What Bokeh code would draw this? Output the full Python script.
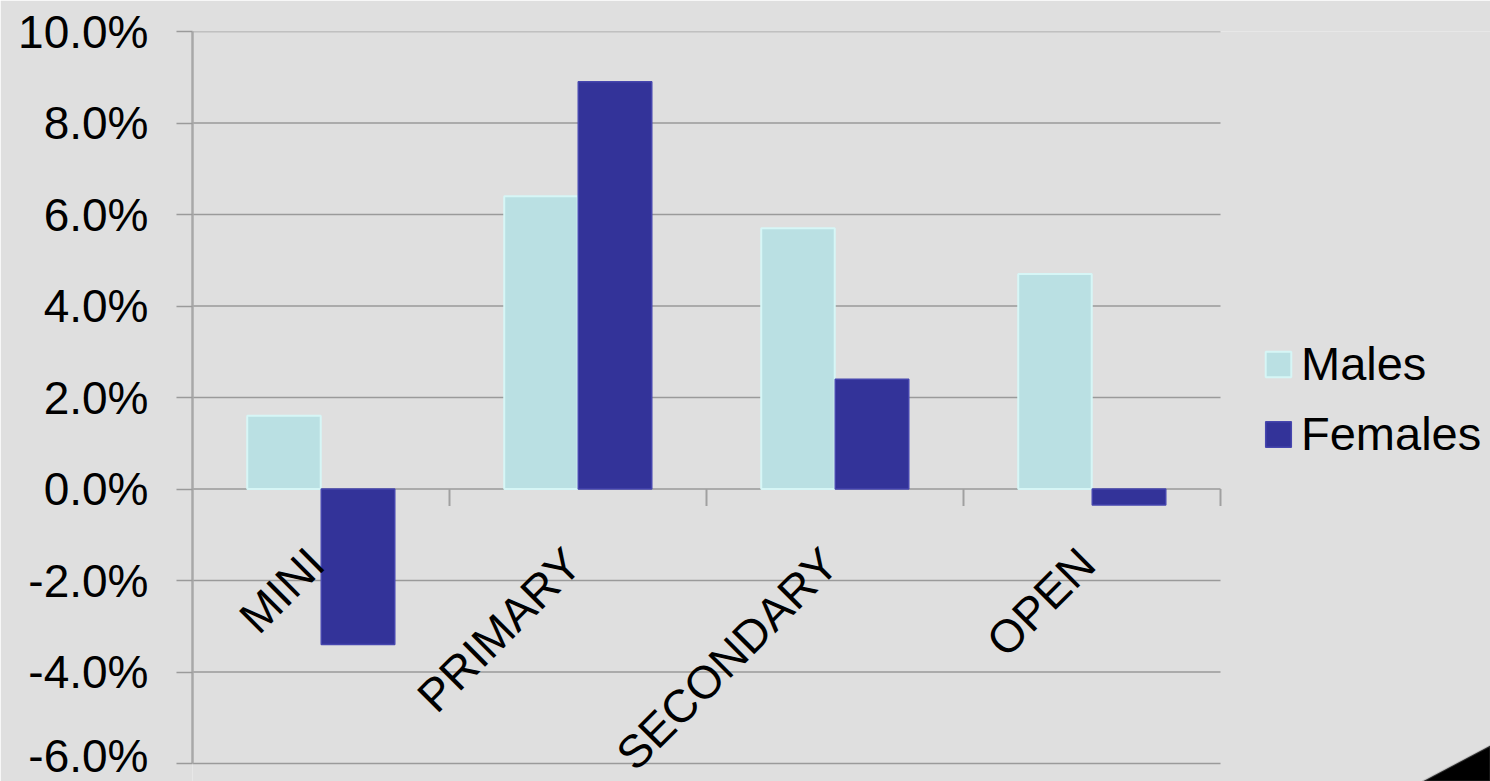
from math import pi
from bokeh.plotting import figure
from bokeh.models import (ColumnDataSource, Range1d, FixedTicker, PolyAnnotation,
                          PrintfTickFormatter, LabelSet, Legend, LegendItem)
from bokeh.core.properties import value
from bokeh.embed import file_html
from bokeh.resources import INLINE

# ---- data ----
categories = ["MINI", "PRIMARY", "SECONDARY", "OPEN"]
males = [1.6, 6.4, 5.7, 4.7]
females = [-3.4, 8.9, 2.4, -0.35]
y_ticks = [-6, -4, -2, 0, 2, 4, 6, 8, 10]
series_names = ["Males", "Females"]

FONT = "Liberation Sans"
BG = "#dfdfdf"
GRID = "#9a9a9a"

n = len(categories)
PX_CAT = 257.0           # pixel width of one category slot
FRAME_W = 1490 - 192     # frame spans to the right edge (legend lives inside it)
PX_UNIT = 45.75          # pixels per 1 % on the value axis
BOTTOM_EXTRA = 18        # frame extends below the -6 % line so rotated labels are not clipped

centers = [i + 0.5 for i in range(n)]
src = ColumnDataSource(dict(cat=categories, x=centers,
                            xm=[c - 0.144 for c in centers], xf=[c + 0.144 for c in centers],
                            xb=[i + 1 for i in range(n)],
                            males=males, females=females, zero=[0] * n))
grid_src = ColumnDataSource(dict(y=y_ticks, x0=[0] * len(y_ticks), x1=[n] * len(y_ticks)))

x_end = FRAME_W / PX_CAT
y_start = y_ticks[0] - BOTTOM_EXTRA / PX_UNIT
p = figure(x_range=Range1d(0, x_end), y_range=Range1d(y_start, y_ticks[-1]),
           width=1490, height=781, output_backend="svg", toolbar_location=None,
           min_border_left=192, min_border_right=0, min_border_top=31, min_border_bottom=0,
           background_fill_color=BG, border_fill_color=BG, outline_line_color=None)

p.xaxis.visible = False
p.xgrid.visible = False
p.ygrid.visible = False

# decorative dark slide corner (bottom right)
p.add_layout(PolyAnnotation(xs=[x_end - 68 / PX_CAT, x_end, x_end],
                            ys=[y_start, y_start + 36 / PX_UNIT, y_start],
                            fill_color="#000000", fill_alpha=1,
                            line_color="#8a8a8a", line_width=2, level="underlay"))

yax = p.yaxis[0]
yax.ticker = FixedTicker(ticks=y_ticks)
yax.bounds = (y_ticks[0], y_ticks[-1])
yax.formatter = PrintfTickFormatter(format="%.1f%%")
yax.axis_line_color = "#a8a8a8"
yax.axis_line_width = 2.5
yax.major_tick_out = 16
yax.major_tick_in = 0
yax.major_tick_line_color = GRID
yax.major_tick_line_width = 1.6
yax.minor_tick_line_color = None
yax.major_label_text_font = FONT
yax.major_label_text_font_size = "46px"
yax.major_label_text_color = "#000000"
yax.major_label_standoff = 28

# horizontal gridlines (only across the category area)
p.segment(x0="x0", x1="x1", y0="y", y1="y", source=grid_src, line_color=GRID, line_width=1.6)

bw = 0.286
r_m = p.vbar(x="xm", top="males", width=bw, source=src,
             fill_color="#bae0e3", line_color="#d6f6f6", line_width=2)
r_f = p.vbar(x="xf", top="females", width=bw, source=src,
             fill_color="#333399", line_color="#4646ae", line_width=1.5)

# category boundary tick marks on the zero line
p.ray(x="xb", y="zero", length=17, length_units="screen",
      angle=-pi / 2, source=src, line_color="#a0a0a0", line_width=2)

labels = LabelSet(x="x", y="zero", text="cat", source=src, angle=pi / 4,
                  text_align="right", text_baseline="middle", x_offset=-5, y_offset=-67,
                  text_font=value(FONT), text_font_size=value("46px"), text_color="#000000")
p.add_layout(labels)

legend = Legend(items=[LegendItem(label=series_names[0], renderers=[r_m]),
                       LegendItem(label=series_names[1], renderers=[r_f])],
                location=(1070, 320), glyph_width=32, glyph_height=32,
                label_text_font=FONT, label_text_font_size="47px", label_text_color="#000000",
                label_standoff=7, spacing=15, padding=0, margin=0,
                background_fill_alpha=0, border_line_color=None)
p.add_layout(legend)

open("out.html", "w").write(file_html(p, INLINE))
